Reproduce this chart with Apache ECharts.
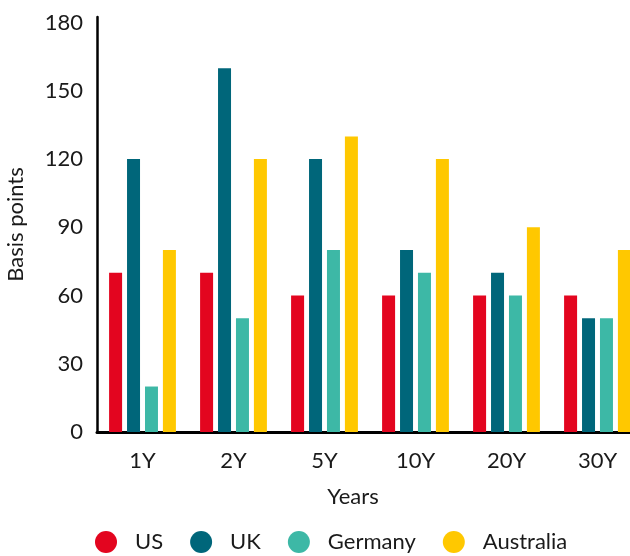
<!DOCTYPE html>
<html>
<head>
<meta charset="utf-8">
<script src="https://cdn.jsdelivr.net/npm/echarts@6/dist/echarts.min.js"></script>
<style>html,body{margin:0;padding:0;background:#fff;}#c{width:630px;height:556px;}</style>
</head>
<body>
<div id="c"></div>
<script>
const categories = ['1Y', '2Y', '5Y', '10Y', '20Y', '30Y'];
const usValues = [70, 70, 60, 60, 60, 60];
const ukValues = [120, 160, 120, 80, 70, 50];
const germanyValues = [20, 50, 80, 70, 60, 50];
const australiaValues = [80, 120, 130, 120, 90, 80];
const seriesNames = ['US', 'UK', 'Germany', 'Australia'];
const colors = ['#E3051F', '#00667A', '#3DB8A6', '#FFC800'];
const yTickValues = [0, 30, 60, 90, 120, 150, 180];

const font = 'Lato';
const txt = '#1a1a1a';
const fs = 22;
const chart = echarts.init(document.getElementById('c'), null, {renderer: 'canvas'});
const values = [usValues, ukValues, germanyValues, australiaValues];

chart.setOption({
  animation: false,
  backgroundColor: '#fff',
  color: colors,
  textStyle: {fontFamily: font},
  title: {
    text: 'Years',
    left: 353,
    top: 486,
    padding: 0,
    textAlign: 'center',
    textStyle: {fontFamily: font, fontSize: fs, fontWeight: 'normal', color: txt}
  },
  legend: {
    left: 95,
    top: 531,
    padding: 0,
    icon: 'circle',
    itemWidth: 22,
    itemHeight: 22,
    itemGap: 27,
    data: seriesNames,
    textStyle: {fontFamily: font, fontSize: fs, color: txt, padding: [0, 0, 0, 13]}
  },
  grid: {left: 97, width: 546, top: 17, bottom: 124, containLabel: false, outerBoundsMode: 'none'},
  xAxis: {
    type: 'category',
    data: categories,
    axisLine: {lineStyle: {color: '#000', width: 3}},
    axisTick: {show: false},
    axisLabel: {fontFamily: font, fontSize: fs, color: txt, margin: 18}
  },
  yAxis: {
    type: 'value',
    min: 0,
    max: 182.5,
    interval: 30,
    name: 'Basis points',
    nameLocation: 'middle',
    nameGap: 70,
    nameTextStyle: {fontFamily: font, fontSize: fs, color: txt},
    axisLine: {show: true, lineStyle: {color: '#000', width: 2.5}},
    axisTick: {show: false},
    splitLine: {show: false},
    axisLabel: {
      fontFamily: font, fontSize: fs, color: txt, margin: 14,
      formatter: function (v) { return yTickValues.indexOf(v) >= 0 ? String(v) : ''; }
    }
  },
  series: seriesNames.map((n, i) => ({
    name: n,
    type: 'bar',
    data: values[i],
    barWidth: 13,
    barGap: '38%',
    itemStyle: {color: colors[i]}
  }))
});
</script>
</body>
</html>
